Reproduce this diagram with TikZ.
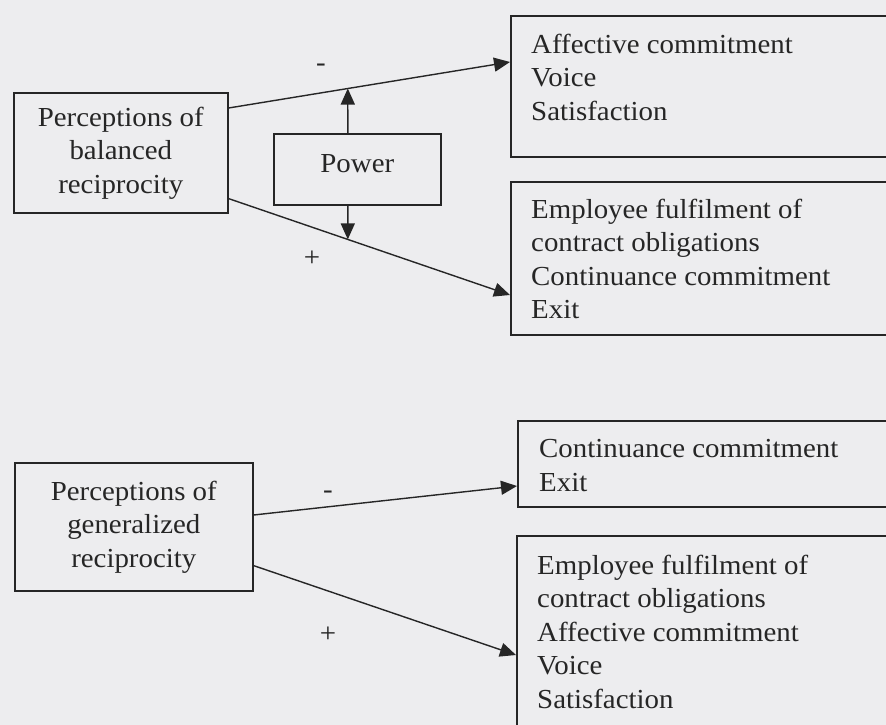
\documentclass[tikz,border=0pt]{standalone}
\usepackage{fontspec}
\setmainfont{Liberation Serif}[FakeStretch=1.05]
\usetikzlibrary{arrows.meta,calc}
\definecolor{paper}{RGB}{237,237,239}
\definecolor{ink}{RGB}{38,38,38}
\begin{document}
\begin{tikzpicture}[x=1pt,y=-1pt,
  lbl/.style={font=\fontsize{27.5}{33.5}\selectfont,text=ink,inner sep=0pt},
  box/.style={draw=ink,line width=1.6pt,rectangle,inner sep=0pt,anchor=north west},
  srcbox/.style={box,lbl,align=center},
  listtext/.style={lbl,align=left,anchor=north west},
  link/.style={draw=ink,line width=1.4pt,-{Triangle[length=16pt,width=14pt]}},
  sign/.style={lbl}]
\fill[paper] (0,0) rectangle (886,725);
\useasboundingbox (0,0) rectangle (886,725);
\clip (0,0) rectangle (886,725);

% ---- balanced reciprocity model ----
\node[srcbox,minimum width=214pt,minimum height=120pt] (bal) at (13,92)
  {Perceptions of\\balanced\\reciprocity};
\node[srcbox,minimum width=167pt,minimum height=71pt,text depth=12pt] (power) at (273,133) {Power};

\node[box,minimum width=420pt,minimum height=141pt] (aff) at (510,15) {};
\node[listtext] (affT) at (531,33.5) {Affective commitment\\Voice\\Satisfaction};

\node[box,minimum width=420pt,minimum height=153pt] (emp1) at (510,181) {};
\node[listtext] (emp1T) at (531,198.5)
  {Employee fulfilment of\\contract obligations\\Continuance commitment\\Exit};

\coordinate (b1) at ([yshift=-16pt]bal.north east);
\coordinate (a1) at ([yshift=-47pt]aff.north west);
\coordinate (b2) at ([yshift=15pt]bal.south east);
\coordinate (e1) at ([yshift=-114pt]emp1.north west);
\coordinate (pu) at ([xshift=-9.5pt]power.north);
\coordinate (pd) at ([xshift=-9.5pt]power.south);
\coordinate (m1) at (intersection of b1--a1 and pu--pd);
\coordinate (m2) at (intersection of b2--e1 and pu--pd);

\draw[link] (b1) -- (a1);
\draw[link] (b2) -- (e1);
\draw[link] (pu) -- (m1);
\draw[link] (pd) -- (m2);

\node[sign] (s1) at (321,68) {-};
\node[sign] (s2) at (312,259) {+};

% ---- generalized reciprocity model ----
\node[srcbox,minimum width=238pt,minimum height=128pt] (gen) at (14,462)
  {Perceptions of\\generalized\\reciprocity};

\node[box,minimum width=420pt,minimum height=86pt] (cont) at (517,420) {};
\node[listtext] (contT) at (539,439.5) {Continuance commitment\\Exit};

\node[box,minimum width=420pt,minimum height=260pt] (emp2) at (516,535) {};
\node[listtext] (emp2T) at (537,554.5)
  {Employee fulfilment of\\contract obligations\\Affective commitment\\Voice\\Satisfaction};

\draw[link] ([yshift=-53pt]gen.north east) -- ([yshift=-66pt]cont.north west);
\draw[link] ([yshift=26pt]gen.south east) -- ([yshift=-120pt]emp2.north west);

\node[sign] (s3) at (328,495) {-};
\node[sign] (s4) at (328,635) {+};
\end{tikzpicture}
\end{document}
